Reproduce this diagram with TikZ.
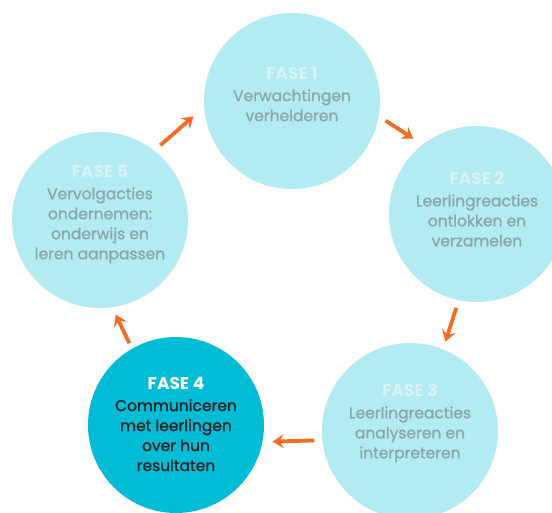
\documentclass[tikz,border=0pt]{standalone}
\usepackage{fontspec}
\setmainfont{Poppins}
\newfontfamily\middel{Poppins}[BoldFont={*}, BoldFeatures={FakeBold=1.2}]
\usetikzlibrary{arrows.meta}
\definecolor{lichtblauw}{RGB}{178,235,241}
\definecolor{donkerblauw}{RGB}{0,188,212}
\definecolor{oranje}{RGB}{242,108,33}
\definecolor{grijstekst}{RGB}{136,168,173}
\definecolor{fasetekst}{RGB}{214,243,247}
\definecolor{donkertekst}{RGB}{35,35,40}

\begin{document}
\begin{tikzpicture}[x=1pt, y=-1pt,
    fase/.style={circle, fill=lichtblauw, inner sep=0pt, minimum size=176pt},
    actief/.style={fase, fill=donkerblauw},
    tekst/.style={align=center, font=\fontsize{15.5}{20}\middel\bfseries, text=grijstekst},
    pijl/.style={-{Stealth[length=11pt, width=14pt, inset=4pt]}, oranje, line width=3.8pt, shorten <=8pt, shorten >=8pt}]
      \useasboundingbox (0, 0) rectangle (552, 512);
      \clip (0, 0) rectangle (552, 512);

      \node[fase] (c1) at (292, 101) {};
      \node[fase] (c2) at (477, 214) {};
      \node[fase] (c3) at (410, 431) {};
      \node[actief] (c4) at (176, 425) {};
      \node[fase] (c5) at (100, 220) {};

      \node[tekst] (t1) at (292, 94) {\textcolor{fasetekst}{\rmfamily\bfseries\fontsize{17}{20}\selectfont FASE 1}\\[2pt]Verwachtingen\\verhelderen};
      \node[tekst] (t2) at (477, 209) {\textcolor{fasetekst}{\rmfamily\bfseries\fontsize{17}{20}\selectfont FASE 2}\\[2pt]Leerlingreacties\\ontlokken en\\verzamelen};
      \node[tekst] (t3) at (410, 423) {\textcolor{fasetekst}{\rmfamily\bfseries\fontsize{17}{20}\selectfont FASE 3}\\[2pt]Leerlingreacties\\analyseren en\\interpreteren};
      \node[tekst, text=donkertekst] (t4) at (176, 424) {\textcolor{white}{\rmfamily\bfseries\fontsize{17}{20}\selectfont FASE 4}\\[2pt]Communiceren\\met leerlingen\\over hun\\resultaten};
      \node[tekst] (t5) at (100, 214) {\textcolor{fasetekst}{\rmfamily\bfseries\fontsize{17}{20}\selectfont FASE 5}\\[2pt]Vervolgacties\\ondernemen:\\onderwijs en\\leren aanpassen};

      \draw[pijl, shorten >=14pt] (c5.52) -- (c1.184);
      \draw[pijl, shorten >=11pt] (c1.350) -- (c2.128);
      \draw[pijl] (c2.258) -- (c3.68);
      \draw[pijl, shorten >=10pt] (c3.186) -- (c4.349);
      \draw[pijl, shorten <=6pt] (c4.120) -- (c5.278);

    \end{tikzpicture}
\end{document}
